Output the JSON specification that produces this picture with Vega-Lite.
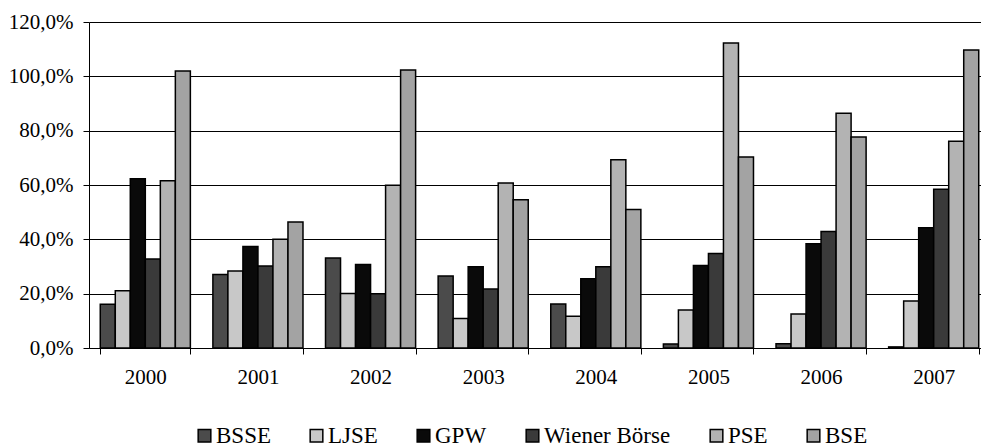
{
  "$schema": "https://vega.github.io/schema/vega-lite/v6.json",
  "width": 892,
  "height": 326,
  "autosize": {"type": "none"},
  "padding": {"left": 89, "top": 22, "right": 0, "bottom": 99},
  "background": "white",
  "config": {
    "locale": {"number": {"decimal": ",", "thousands": ".", "grouping": [3], "currency": ["", " €"]}},
    "view": {"stroke": null},
    "font": "Liberation Serif",
    "axis": {"labelFont": "Liberation Serif", "labelFontSize": 21, "labelColor": "black", "domainColor": "black", "tickColor": "black", "titleFont": "Liberation Serif"},
    "legend": {"labelFont": "Liberation Serif", "labelFontSize": 23, "labelColor": "black"}
  },
  "data": {
    "values": [
      {"year": "2000", "exchange": "BSSE", "v": 0.161},
      {"year": "2000", "exchange": "LJSE", "v": 0.211},
      {"year": "2000", "exchange": "GPW", "v": 0.623},
      {"year": "2000", "exchange": "Wiener Börse", "v": 0.328},
      {"year": "2000", "exchange": "PSE", "v": 0.616},
      {"year": "2000", "exchange": "BSE", "v": 1.02},
      {"year": "2001", "exchange": "BSSE", "v": 0.271},
      {"year": "2001", "exchange": "LJSE", "v": 0.283},
      {"year": "2001", "exchange": "GPW", "v": 0.374},
      {"year": "2001", "exchange": "Wiener Börse", "v": 0.302},
      {"year": "2001", "exchange": "PSE", "v": 0.400},
      {"year": "2001", "exchange": "BSE", "v": 0.464},
      {"year": "2002", "exchange": "BSSE", "v": 0.331},
      {"year": "2002", "exchange": "LJSE", "v": 0.201},
      {"year": "2002", "exchange": "GPW", "v": 0.307},
      {"year": "2002", "exchange": "Wiener Börse", "v": 0.200},
      {"year": "2002", "exchange": "PSE", "v": 0.599},
      {"year": "2002", "exchange": "BSE", "v": 1.023},
      {"year": "2003", "exchange": "BSSE", "v": 0.265},
      {"year": "2003", "exchange": "LJSE", "v": 0.109},
      {"year": "2003", "exchange": "GPW", "v": 0.299},
      {"year": "2003", "exchange": "Wiener Börse", "v": 0.217},
      {"year": "2003", "exchange": "PSE", "v": 0.607},
      {"year": "2003", "exchange": "BSE", "v": 0.546},
      {"year": "2004", "exchange": "BSSE", "v": 0.162},
      {"year": "2004", "exchange": "LJSE", "v": 0.117},
      {"year": "2004", "exchange": "GPW", "v": 0.255},
      {"year": "2004", "exchange": "Wiener Börse", "v": 0.299},
      {"year": "2004", "exchange": "PSE", "v": 0.693},
      {"year": "2004", "exchange": "BSE", "v": 0.510},
      {"year": "2005", "exchange": "BSSE", "v": 0.015},
      {"year": "2005", "exchange": "LJSE", "v": 0.140},
      {"year": "2005", "exchange": "GPW", "v": 0.304},
      {"year": "2005", "exchange": "Wiener Börse", "v": 0.348},
      {"year": "2005", "exchange": "PSE", "v": 1.123},
      {"year": "2005", "exchange": "BSE", "v": 0.703},
      {"year": "2006", "exchange": "BSSE", "v": 0.016},
      {"year": "2006", "exchange": "LJSE", "v": 0.125},
      {"year": "2006", "exchange": "GPW", "v": 0.384},
      {"year": "2006", "exchange": "Wiener Börse", "v": 0.429},
      {"year": "2006", "exchange": "PSE", "v": 0.864},
      {"year": "2006", "exchange": "BSE", "v": 0.777},
      {"year": "2007", "exchange": "BSSE", "v": 0.004},
      {"year": "2007", "exchange": "LJSE", "v": 0.173},
      {"year": "2007", "exchange": "GPW", "v": 0.443},
      {"year": "2007", "exchange": "Wiener Börse", "v": 0.584},
      {"year": "2007", "exchange": "PSE", "v": 0.761},
      {"year": "2007", "exchange": "BSE", "v": 1.097}
    ]
  },
  "mark": {"type": "bar", "stroke": "black", "strokeWidth": 1.5},
  "encoding": {
    "x": {
      "field": "year", "type": "nominal",
      "scale": {"range": [0, 901], "paddingInner": 0.2, "paddingOuter": 0.1},
      "axis": {"title": null, "labelAngle": 0, "tickBand": "extent", "tickSize": 6, "labelPadding": 12, "domainWidth": 1, "tickWidth": 1}
    },
    "xOffset": {
      "field": "exchange", "type": "nominal",
      "sort": ["BSSE", "LJSE", "GPW", "Wiener Börse", "PSE", "BSE"],
      "scale": {"paddingInner": 0, "paddingOuter": 0}
    },
    "y": {
      "field": "v", "type": "quantitative",
      "scale": {"domain": [0, 1.2], "nice": false},
      "axis": {"title": null, "format": ".1%", "values": [0, 0.2, 0.4, 0.6, 0.8, 1.0, 1.2], "tickSize": 6, "labelPadding": 10, "gridColor": "black", "gridWidth": 1, "gridOpacity": 1, "domainWidth": 1}
    },
    "fill": {
      "field": "exchange", "type": "nominal",
      "sort": ["BSSE", "LJSE", "GPW", "Wiener Börse", "PSE", "BSE"],
      "scale": {"domain": ["BSSE", "LJSE", "GPW", "Wiener Börse", "PSE", "BSE"], "range": ["#4b4b4b", "#c8c8c8", "#0a0a0a", "#3a3a3a", "#b3b3b3", "#a3a3a3"]},
      "legend": {"title": null, "orient": "none", "direction": "horizontal", "legendX": 104, "legendY": 402, "symbolType": "square", "symbolSize": 160, "symbolStrokeColor": "black", "symbolStrokeWidth": 1.5, "symbolOpacity": 1, "labelOffset": 0, "columnPadding": 34}
    }
  }
}
